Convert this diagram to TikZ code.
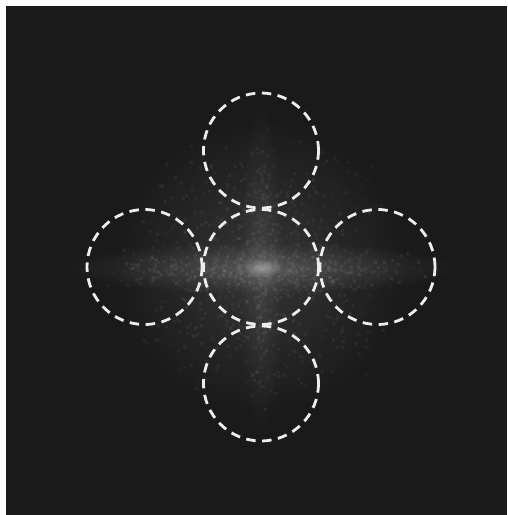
\documentclass[tikz,border=0pt]{standalone}
\usetikzlibrary{positioning,fadings}

\definecolor{bgdark}{HTML}{1A1A1A}
\definecolor{speckle}{HTML}{A0A0A0}

\tikzfading[name=glowfade, inner color=transparent!0, outer color=transparent!100]

\tikzset{
  ring/.style={circle, draw=white!93!black, line width=1.6pt,
    dash pattern=on 0.19cm off 0.13cm, minimum size=2.3cm,
    inner sep=0pt, outer sep=0pt},
  dot/.style={fill=speckle},
  glow/.style={fill=white, path fading=glowfade},
}

\begin{document}
\begin{tikzpicture}[x=0.02cm,y=-0.02cm]
  \useasboundingbox (0,0) rectangle (508,515);
  \fill[bgdark] (6,6) rectangle (507,515);

  % faint spectrum cloud
  \fill[glow, opacity=0.12] (260,267) ellipse (150 and 150);
  \fill[glow, opacity=0.16] (262,268) ellipse (200 and 26);
  \fill[glow, opacity=0.08] (261,268) ellipse (22 and 180);
  \fill[glow, opacity=0.35] (262,268) ellipse (20 and 10);

  % speckle
  \pgfmathsetseed{11}
  \foreach \k in {1,...,900}{
    \pgfmathsetmacro\px{260+65*(rand+rand)}
    \pgfmathsetmacro\py{267+65*(rand+rand)}
    \pgfmathsetmacro\op{0.02+0.08*rnd}
    \fill[dot, opacity=\op] (\px,\py) rectangle ++(3,3);
  }
  \foreach \k in {1,...,450}{
    \pgfmathsetmacro\px{262+85*(rand+rand)}
    \pgfmathsetmacro\py{268+10*(rand+rand)}
    \pgfmathsetmacro\op{0.03+0.10*rnd}
    \fill[dot, opacity=\op] (\px,\py) rectangle ++(3,3);
  }
  \foreach \k in {1,...,200}{
    \pgfmathsetmacro\px{261+8*(rand+rand)}
    \pgfmathsetmacro\py{268+80*(rand+rand)}
    \pgfmathsetmacro\op{0.02+0.07*rnd}
    \fill[dot, opacity=\op] (\px,\py) rectangle ++(3,3);
  }

  % dashed rings
  \node[ring] (mid) at (261,267) {};
  \node[ring, above=0.03cm of mid] (up) {};
  \node[ring, below=0.03cm of mid] (down) {};
  \node[ring, left=0.03cm of mid] (west) {};
  \node[ring, right=0.03cm of mid] (east) {};
\end{tikzpicture}
\end{document}
